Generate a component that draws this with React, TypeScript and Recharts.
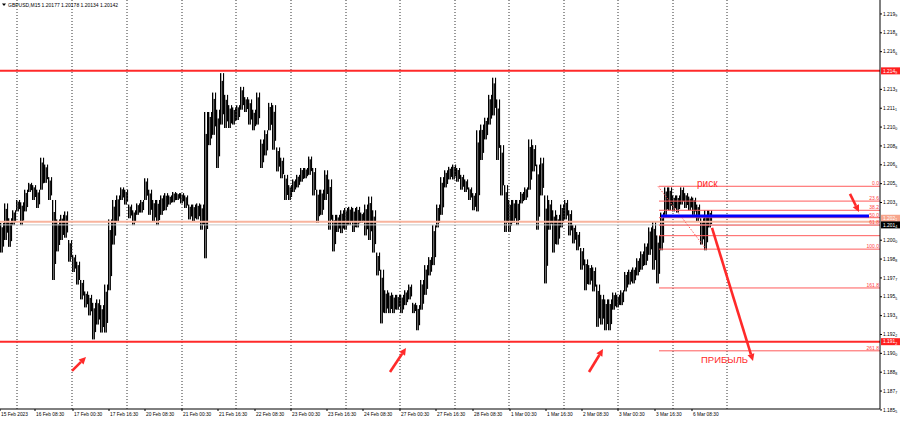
import React from "react";
import { Bar, ComposedChart, ReferenceDot, ReferenceLine, XAxis, YAxis } from "recharts";

// GBPUSD M15, grouped in slots of ~7 bars: high / low of each slot
const highs = [
  1.2016, 1.2033, 1.202, 1.2027, 1.2036, 1.2034, 1.2045, 1.2051, 1.2049, 1.2045,
  1.2073, 1.2067, 1.2056, 1.2036, 1.2019, 1.2023, 1.2026, 1.2001, 1.1988, 1.1982,
  1.1966, 1.1956, 1.1953, 1.1946, 1.1949, 1.1944, 1.1962, 1.2019, 1.2036, 1.204,
  1.2047, 1.2045, 1.2032, 1.2027, 1.2033, 1.2036, 1.2055, 1.2045, 1.2036, 1.2036,
  1.204, 1.2042, 1.204, 1.2043, 1.2042, 1.2042, 1.204, 1.2032, 1.2032, 1.2033,
  1.2032, 1.2113, 1.2113, 1.213, 1.2115, 1.2147, 1.2128, 1.2119, 1.2117, 1.2119,
  1.2135, 1.2126, 1.2124, 1.2115, 1.213, 1.2089, 1.2097, 1.2121, 1.2119, 1.2082,
  1.2073, 1.2058, 1.2049, 1.2054, 1.2058, 1.2064, 1.2064, 1.2074, 1.2064, 1.2045,
  1.2045, 1.2062, 1.2054, 1.2023, 1.2023, 1.2027, 1.2029, 1.203, 1.2029, 1.203,
  1.2025, 1.2032, 1.2039, 1.2027, 1.199, 1.1975, 1.1957, 1.1955, 1.1953, 1.1953,
  1.1953, 1.1957, 1.1962, 1.1946, 1.1944, 1.1966, 1.1979, 1.1986, 1.2014, 1.2032,
  1.2056, 1.2062, 1.2065, 1.2067, 1.2064, 1.2058, 1.2054, 1.2047, 1.2042, 1.2097,
  1.2102, 1.2108, 1.2128, 1.2143, 1.2124, 1.2084, 1.2049, 1.2036, 1.2036, 1.2036,
  1.2043, 1.2047, 1.2089, 1.2084, 1.2067, 1.2073, 1.204, 1.2036, 1.2027, 1.2023,
  1.2032, 1.2036, 1.2027, 1.2014, 1.2008, 1.1994, 1.1984, 1.1979, 1.1977, 1.1962,
  1.1953, 1.1949, 1.1949, 1.1955, 1.1953, 1.1957, 1.1973, 1.1975, 1.1977, 1.1985,
  1.1991, 1.1998, 1.2012, 1.2017, 1.2005, 1.2025, 1.2047, 1.2047, 1.204, 1.204,
  1.2047, 1.2042, 1.2039, 1.2038, 1.2032, 1.202, 1.2027, 1.2027,
];
const lows = [
  1.199, 1.2001, 1.1995, 1.2014, 1.2026, 1.2014, 1.2026, 1.2043, 1.2036, 1.2029,
  1.2045, 1.2051, 1.2036, 1.1966, 1.1991, 1.2001, 1.2003, 1.1982, 1.1973, 1.1962,
  1.1949, 1.1942, 1.1935, 1.1914, 1.1927, 1.192, 1.192, 1.1957, 1.1997, 1.2017,
  1.2036, 1.2032, 1.202, 1.2014, 1.2023, 1.2025, 1.2036, 1.2023, 1.2017, 1.2014,
  1.2023, 1.2027, 1.2032, 1.2034, 1.2036, 1.2033, 1.2029, 1.2019, 1.2017, 1.2019,
  1.201, 1.1985, 1.2084, 1.2093, 1.2064, 1.2102, 1.2099, 1.2099, 1.2102, 1.2106,
  1.2115, 1.2113, 1.2102, 1.2097, 1.2102, 1.2064, 1.2075, 1.2097, 1.208, 1.2061,
  1.2055, 1.2036, 1.2036, 1.2043, 1.2047, 1.2052, 1.2055, 1.2058, 1.204, 1.2016,
  1.2023, 1.2036, 1.201, 1.1991, 1.2008, 1.2007, 1.201, 1.2014, 1.2008, 1.2012,
  1.2016, 1.2005, 1.2001, 1.199, 1.197, 1.1928, 1.1937, 1.1937, 1.1937, 1.194,
  1.1937, 1.1944, 1.1949, 1.1937, 1.1922, 1.194, 1.1953, 1.197, 1.1979, 1.2012,
  1.2023, 1.2047, 1.2054, 1.2054, 1.2052, 1.2045, 1.2043, 1.2036, 1.2027, 1.2026,
  1.2071, 1.2089, 1.2102, 1.211, 1.2071, 1.204, 1.2008, 1.2008, 1.2016, 1.2014,
  1.2033, 1.2036, 1.2045, 1.2061, 1.201, 1.204, 1.1963, 1.201, 1.199, 1.1997,
  1.2012, 1.2019, 1.2005, 1.1998, 1.1992, 1.1975, 1.1957, 1.1962, 1.1956, 1.1925,
  1.1927, 1.1922, 1.1922, 1.194, 1.1942, 1.1944, 1.1956, 1.1962, 1.1963, 1.197,
  1.1975, 1.1979, 1.1988, 1.1975, 1.1963, 1.1992, 1.2023, 1.2027, 1.2026, 1.2025,
  1.2032, 1.2029, 1.2027, 1.2023, 1.2017, 1.1997, 1.1992, 1.2012,
];

// time axis (in slots)
const xTickSlots = [
  0, 8.75, 18.25, 27.25, 36.25, 45.5, 54.5, 63.75, 72.75, 81.75, 90.75, 100, 109,
  118.25, 127.5, 136.5, 145.5, 154.5, 163.75, 173,
];
const xTickLabels = [
  "15 Feb 2023", "16 Feb 08:30", "17 Feb 00:30", "17 Feb 16:30", "20 Feb 08:30",
  "21 Feb 00:30", "21 Feb 16:30", "22 Feb 08:30", "23 Feb 00:30", "23 Feb 16:30",
  "24 Feb 08:30", "27 Feb 00:30", "27 Feb 16:30", "28 Feb 08:30", "1 Mar 00:30",
  "1 Mar 16:30", "2 Mar 08:30", "3 Mar 00:30", "3 Mar 16:30", "6 Mar 08:30",
];
const dayGridSlots = [
  4.25, 18, 31.75, 45.5, 59, 72.75, 86.5, 100, 113.75, 127.25, 141, 154.5, 168.25, 181.75,
];

// price axis
const yTickValues = [
  1.21988, 1.21823, 1.21658, 1.21328, 1.21163, 1.20998, 1.20833, 1.20668, 1.20503,
  1.20338, 1.20008, 1.19843, 1.19678, 1.19513, 1.19348, 1.19183, 1.19018, 1.18853,
  1.18688, 1.18523,
];
const yTickLabels = [
  "1.2199", "1.2188", "1.2166", "1.2133", "1.2111", "1.2100", "1.2088", "1.2066", "1.2055",
  "1.2033", "1.2000", "1.1988", "1.1977", "1.1955", "1.1933", "1.1922", "1.1900", "1.1888",
  "1.1877", "1.1855",
];

// levels and drawings
const resistance = 1.2149;
const support = 1.1912;
const salmonLevel = 1.2017;
const bidPrice = 1.20142;
const blueLevel = 1.2022;
const fibStart = 164.75;
const fibTop = 1.2048;
const fibBottom = 1.1993;
const fibLevels = [0, 23.6, 38.2, 50, 61.8, 78.6, 100, 161.8, 261.8];
const fibLabels = ["0.0", "23.6", "38.2", "50.0", "61.8", "", "100.0", "161.8", "261.8"];
const arrows = [
  { x1: 18, y1: 1.18864, x2: 21.5, y2: 1.18986 },
  { x1: 97.5, y1: 1.18855, x2: 101.5, y2: 1.19065 },
  { x1: 147.25, y1: 1.18855, x2: 150.75, y2: 1.19056 },
  { x1: 212.5, y1: 1.20413, x2: 214.75, y2: 1.20255 },
  { x1: 178, y1: 1.20115, x2: 188.25, y2: 1.18951 },
];
const priceBoxes = [
  { price: resistance, label: "1.2149", fill: "#ff1f1f", color: "#fff" },
  { price: 1.202, label: "1.2021", fill: "#f7a58c", color: "#fff" },
  { price: bidPrice, label: "1.2014", fill: "#000", color: "#fff" },
  { price: support, label: "1.1912", fill: "#ff1f1f", color: "#fff" },
];

const candles = highs.map((h, i) => ({ t: i + 0.5, range: [lows[i], h] }));

const FONT = "'Liberation Sans', Arial, sans-serif";
const RED = "#ff2a2a";

const XTick = (props: any) => {
  const idx = xTickSlots.indexOf(props.payload.value);
  return (
    <text x={props.x + 1} y={props.y + 3} fontSize={4.8} fontFamily={FONT} fill="#000">
      {xTickLabels[idx]}
    </text>
  );
};

const YTick = (props: any) => {
  const idx = yTickValues.indexOf(props.payload.value);
  const lab = yTickLabels[idx] || "";
  return (
    <text x={props.x} y={props.y + 1.7} fontSize={4.9} fontFamily={FONT} fill="#000">
      {lab.slice(0, 5)}
      <tspan fontSize={3.6} dy={1.3}>
        {lab.slice(5)}
      </tspan>
    </text>
  );
};

// dense M15 candles: a few thin strokes per slot
const CandleShape = (p: any) => {
  const { x, y, width, height } = p;
  if (height == null || isNaN(y)) return null;
  const h = Math.max(Math.abs(height), 1);
  const top = height < 0 ? y + height : y;
  return (
    <g fill="#000">
      <rect x={x} y={top} width={1.3} height={h} />
      <rect x={x + 1.6} y={top + h * 0.15} width={1.3} height={h * 0.85} />
      <rect x={x + 3} y={top} width={1.1} height={h * 0.8} />
    </g>
  );
};

const arrowShape = (p: any) => {
  const { x1, y1, x2, y2 } = p;
  const a = Math.atan2(y2 - y1, x2 - x1);
  const len = 7;
  const w = 3.5;
  const bx = x2 - len * Math.cos(a);
  const by = y2 - len * Math.sin(a);
  const px = -Math.sin(a) * w;
  const py = Math.cos(a) * w;
  return (
    <g>
      <line x1={x1} y1={y1} x2={bx} y2={by} stroke={RED} strokeWidth={2.6} />
      <polygon points={`${x2},${y2} ${bx + px},${by + py} ${bx - px},${by - py}`} fill={RED} />
    </g>
  );
};

const App: React.FC = () => {
  return (
    <div style={{ position: "absolute", left: 0, top: 0, width: 900, height: 423, background: "#fff" }}>
      <ComposedChart width={900} height={423} data={candles} margin={{ top: 0, right: 0, bottom: 0, left: 0 }}>
        <XAxis
          type="number"
          dataKey="t"
          domain={[0, 220]}
          ticks={xTickSlots}
          interval={0}
          tick={<XTick />}
          tickSize={2}
          tickMargin={2}
          height={14}
          stroke="#000"
          allowDataOverflow
        />
        <YAxis
          orientation="right"
          type="number"
          domain={[1.18531, 1.2211]}
          ticks={yTickValues}
          interval={0}
          tick={<YTick />}
          tickSize={2}
          tickMargin={1}
          width={20}
          stroke="#000"
          allowDataOverflow
        />
        {dayGridSlots.map((s) => (
          <ReferenceLine key={`g${s}`} x={s} stroke="#333" strokeDasharray="1 2" />
        ))}
        <ReferenceLine y={salmonLevel} stroke="#f8b49e" strokeWidth={2} />
        <ReferenceLine y={bidPrice} stroke="#c8c8c8" strokeWidth={1} />
        <ReferenceLine y={resistance} stroke={RED} strokeWidth={2} />
        <ReferenceLine y={support} stroke={RED} strokeWidth={2} />
        <Bar dataKey="range" fill="#000" barSize={4} shape={CandleShape} isAnimationActive={false} />
        {fibLevels.map((lv, i) => {
          const price = fibTop - ((fibTop - fibBottom) * lv) / 100;
          return (
            <ReferenceLine
              key={`f${lv}`}
              segment={[
                { x: fibStart, y: price },
                { x: 220, y: price },
              ]}
              stroke="#ff5b5b"
              strokeWidth={1}
              label={
                fibLabels[i]
                  ? {
                      value: fibLabels[i],
                      position: "insideBottomRight",
                      fontSize: 5,
                      fill: "#ff4040",
                      fontFamily: FONT,
                      offset: 1,
                    }
                  : undefined
              }
            />
          );
        })}
        <ReferenceLine
          segment={[
            { x: 164.5, y: fibTop },
            { x: 176.5, y: fibBottom },
          ]}
          stroke="#ff5b5b"
          strokeDasharray="1.5 1.5"
        />
        <ReferenceLine
          segment={[
            { x: 165.25, y: blueLevel },
            { x: 217.25, y: blueLevel },
          ]}
          stroke="#0000ff"
          strokeWidth={3}
        />
        {arrows.map((a, i) => (
          <ReferenceLine
            key={`a${i}`}
            segment={[
              { x: a.x1, y: a.y1 },
              { x: a.x2, y: a.y2 },
            ]}
            shape={arrowShape}
            ifOverflow="visible"
          />
        ))}
        <ReferenceDot
          x={174.25}
          y={1.20474}
          r={0}
          ifOverflow="visible"
          shape={(p: any) => (
            <text x={p.cx} y={p.cy} fontSize={10} fontFamily={FONT} fill={RED}>
              риск
            </text>
          )}
        />
        <ReferenceDot
          x={175.25}
          y={1.18934}
          r={0}
          ifOverflow="visible"
          shape={(p: any) => (
            <text x={p.cx} y={p.cy} fontSize={9.5} fontFamily={FONT} fill={RED}>
              ПРИБЫЛЬ
            </text>
          )}
        />
        {priceBoxes.map((b) => (
          <ReferenceDot
            key={b.label}
            x={220}
            y={b.price}
            r={0}
            ifOverflow="visible"
            shape={(p: any) => (
              <g>
                <rect x={p.cx + 1} y={p.cy - 3.5} width={19} height={7} fill={b.fill} />
                <text x={p.cx + 3} y={p.cy + 1.8} fontSize={4.9} fontFamily={FONT} fill={b.color}>
                  {b.label.slice(0, 5)}
                  <tspan fontSize={3.6} dy={1.2}>
                    {b.label.slice(5)}
                  </tspan>
                </text>
              </g>
            )}
          />
        ))}
      </ComposedChart>
      <svg width={200} height={10} style={{ position: "absolute", left: 0, top: 0 }}>
        <polygon points="2,3.5 6,3.5 4,6" fill="#000" />
        <text x={8} y={6.5} fontSize={5} fontFamily={FONT} fill="#000">
          GBPUSD,M15  1.20177 1.20178 1.20134 1.20142
        </text>
      </svg>
    </div>
  );
};

export default App;
